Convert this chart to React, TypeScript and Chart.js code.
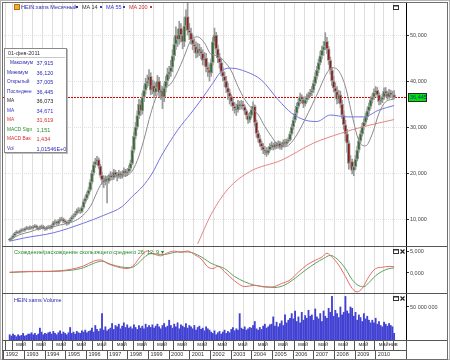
import React, { useEffect, useRef } from 'react';
import { Chart, registerables } from 'chart.js';

Chart.register(...registerables);

const FONT = "'Liberation Sans', Arial, sans-serif";
Chart.defaults.font.family = FONT;

// ---------- data (monthly, Jan 1992 .. Feb 2011) ----------
const years = ['1992', '1993', '1994', '1995', '1996', '1997', '1998', '1999', '2000', '2001', '2002', '2003', '2004', '2005', '2006', '2007', '2008', '2009', '2010'];
const dateLabel = '01-фев-2011';

const opens = [
  5.4, 5.6, 5.9, 6.4, 6.9, 7.2, 7.0, 7.4, 7.7, 7.5, 7.9, 8.1,
  7.9, 8.2, 8.0, 8.3, 8.5, 8.1, 7.9, 8.2, 8.4, 8.0, 7.8, 8.1,
  8.3, 8.0, 8.6, 9.2, 9.4, 9.0, 9.6, 9.9, 10.0, 9.5, 9.3, 9.0,
  9.4, 9.9, 10.4, 10.8, 11.2, 11.8, 12.0, 11.6, 12.5, 13.8, 14.5, 15.4,
  16.3, 18.0, 20.0, 21.8, 22.5, 22.9, 21.5, 19.5, 18.5, 18.0, 18.8, 18.2,
  19.0, 19.5, 19.0, 20.2, 19.6, 19.2, 20.0, 19.4, 19.8, 20.5, 19.9, 20.3,
  21.0, 22.1, 25.0, 28.0, 30.0, 32.5, 35.0, 33.5, 36.5, 38.0, 39.5, 40.0,
  41.0, 38.0, 39.0, 37.5, 38.5, 40.0, 37.5, 38.0, 36.5, 38.5, 40.0, 41.5,
  42.0, 43.0, 45.5, 48.0, 50.0, 49.0, 51.5, 50.0, 48.5, 52.0, 54.0, 51.0,
  50.5, 49.0, 48.0, 47.5, 46.0, 47.0, 46.5, 46.0, 44.5, 45.0, 43.0, 42.5,
  41.7, 44.0, 48.5, 50.0, 47.0, 45.0, 44.0, 42.0, 41.0, 40.0, 38.5, 37.5,
  36.6, 35.5, 34.5, 34.0, 33.7, 35.0, 34.5, 35.0, 34.4, 33.5, 32.5, 31.5,
  32.5, 33.8, 34.5, 31.0, 28.6, 27.5, 26.5, 25.7, 25.0, 24.8, 24.3, 25.0,
  25.8, 26.1, 25.5, 26.3, 25.8, 26.5, 25.6, 26.1, 26.8, 26.3, 26.9, 27.2,
  28.5, 30.0, 31.5, 33.0, 34.5, 35.5, 36.6, 36.0, 35.0, 35.9, 36.5, 37.0,
  37.5, 38.0, 39.5, 41.0, 42.4, 44.0, 45.5, 46.7, 47.5, 48.6, 47.0, 44.5,
  42.4, 40.0, 38.5, 37.7, 36.0, 37.0, 35.0, 32.6, 30.5, 28.5, 26.5, 22.1,
  22.5, 20.5, 21.4, 23.0, 25.0, 27.0, 28.5, 30.1, 31.0, 32.2, 33.5, 34.5,
  35.9, 36.5, 37.5, 38.0, 37.0, 35.5, 35.9, 36.5, 37.8, 37.3, 36.5, 37.5,
  37.0, 37.005,
];
const highs = [
  5.8, 6.1, 6.6, 7.1, 7.5, 7.4, 7.6, 7.9, 7.9, 8.1, 8.4, 8.3,
  8.5, 8.4, 8.6, 8.8, 8.7, 8.3, 8.5, 8.7, 8.6, 8.2, 8.4, 8.6,
  8.5, 8.8, 9.5, 9.8, 9.6, 9.9, 10.3, 10.4, 10.2, 9.8, 9.6, 9.7,
  10.2, 10.7, 11.1, 11.6, 12.2, 12.5, 12.3, 12.8, 14.2, 15.0, 15.9, 16.9,
  18.6, 20.6, 22.4, 23.2, 23.6, 23.3, 21.9, 20.2, 19.3, 19.4, 19.2, 19.6,
  20.3, 20.1, 20.8, 20.6, 20.1, 20.6, 20.3, 20.4, 21.1, 20.8, 20.9, 21.6,
  22.8, 25.8, 28.9, 31.0, 33.5, 36.0, 35.8, 37.4, 39.0, 40.6, 41.3, 42.5,
  41.8, 40.2, 40.0, 39.6, 41.2, 40.8, 39.0, 38.8, 39.4, 41.0, 42.8, 43.2,
  44.5, 46.8, 49.5, 51.8, 51.2, 53.0, 52.5, 51.0, 53.8, 55.5, 57.0, 52.5,
  51.5, 50.0, 49.2, 48.5, 48.2, 48.0, 47.3, 46.8, 46.2, 46.0, 44.0, 43.5,
  44.8, 49.5, 51.5, 50.6, 47.8, 46.0, 44.8, 43.0, 42.0, 41.0, 39.5, 38.2,
  37.0, 36.2, 35.3, 35.0, 35.8, 35.6, 35.8, 35.6, 34.8, 33.8, 33.0, 33.2,
  34.5, 35.5, 34.8, 31.5, 29.2, 28.2, 27.0, 26.4, 25.8, 25.5, 25.6, 26.4,
  26.8, 26.5, 26.8, 26.7, 27.0, 26.9, 26.6, 27.2, 27.3, 27.4, 27.8, 29.0,
  30.6, 32.2, 33.8, 35.2, 36.2, 37.4, 37.0, 36.5, 36.6, 37.2, 37.6, 38.2,
  38.8, 40.2, 41.8, 43.2, 44.8, 46.4, 47.6, 48.6, 50.5, 49.5, 47.5, 45.2,
  43.0, 41.0, 39.6, 38.8, 38.0, 37.8, 35.8, 33.5, 31.5, 29.5, 27.0, 23.8,
  23.0, 22.2, 23.8, 25.8, 27.8, 29.2, 30.8, 31.8, 33.0, 34.2, 35.2, 36.6,
  37.2, 38.3, 38.8, 38.6, 37.5, 36.6, 37.2, 38.5, 38.6, 37.8, 38.2, 38.0,
  37.8, 37.915,
];
const lows = [
  5.2, 5.4, 5.8, 6.2, 6.7, 6.8, 6.9, 7.2, 7.3, 7.3, 7.7, 7.6,
  7.7, 7.8, 7.8, 8.1, 7.9, 7.6, 7.7, 8.0, 7.8, 7.5, 7.6, 7.9,
  7.8, 7.9, 8.4, 8.9, 8.7, 8.8, 9.3, 9.6, 9.2, 9.0, 8.6, 8.8,
  9.2, 9.6, 10.1, 10.5, 11.0, 11.4, 11.2, 11.4, 12.3, 13.4, 14.2, 15.1,
  16.0, 17.6, 19.5, 21.2, 21.8, 21.0, 19.0, 17.5, 16.8, 17.4, 13.5, 17.8,
  18.4, 18.5, 18.6, 19.1, 18.3, 18.9, 18.8, 18.9, 19.4, 19.2, 19.4, 20.0,
  20.5, 21.8, 24.5, 27.4, 29.5, 31.8, 32.5, 32.8, 35.5, 37.2, 38.6, 39.0,
  37.0, 37.2, 36.4, 36.8, 37.8, 36.5, 36.0, 34.0, 35.5, 37.6, 39.2, 40.5,
  41.0, 42.0, 44.5, 46.8, 47.5, 48.0, 48.5, 47.0, 47.5, 51.0, 50.0, 49.0,
  48.0, 46.8, 46.2, 45.0, 45.2, 45.5, 44.8, 43.5, 43.4, 42.0, 41.0, 40.0,
  41.0, 43.5, 47.8, 46.0, 44.0, 42.8, 41.2, 40.0, 38.8, 37.5, 36.0, 35.0,
  34.6, 33.6, 33.0, 32.5, 33.2, 33.8, 33.9, 33.8, 32.8, 31.8, 30.8, 31.0,
  32.0, 33.2, 30.2, 27.8, 26.8, 25.8, 25.0, 24.2, 24.0, 23.6, 24.0, 24.8,
  25.2, 25.0, 25.2, 25.3, 25.4, 25.2, 25.1, 25.7, 25.9, 26.0, 26.6, 27.0,
  28.2, 29.5, 31.0, 32.5, 34.0, 35.0, 35.2, 34.2, 34.6, 35.4, 36.0, 36.6,
  36.8, 37.5, 39.0, 40.4, 41.8, 43.5, 44.8, 45.6, 46.8, 46.0, 43.6, 41.5,
  39.0, 37.6, 36.4, 35.0, 35.2, 34.2, 31.8, 29.5, 27.0, 24.5, 20.8, 21.0,
  19.8, 19.4, 20.8, 22.6, 24.5, 26.5, 28.0, 29.5, 30.5, 31.6, 32.8, 34.0,
  35.2, 36.0, 37.0, 36.4, 34.8, 34.9, 35.3, 36.0, 36.8, 36.0, 36.2, 36.4,
  36.2, 36.12,
];
const closes = [
  5.6, 5.9, 6.4, 6.9, 7.2, 7.0, 7.4, 7.7, 7.5, 7.9, 8.1, 7.9,
  8.2, 8.0, 8.3, 8.5, 8.1, 7.9, 8.2, 8.4, 8.0, 7.8, 8.1, 8.3,
  8.0, 8.6, 9.2, 9.4, 9.0, 9.6, 9.9, 10.0, 9.5, 9.3, 9.0, 9.4,
  9.9, 10.4, 10.8, 11.2, 11.8, 12.0, 11.6, 12.5, 13.8, 14.5, 15.4, 16.3,
  18.0, 20.0, 21.8, 22.5, 22.9, 21.5, 19.5, 18.5, 18.0, 18.8, 18.2, 19.0,
  19.5, 19.0, 20.2, 19.6, 19.2, 20.0, 19.4, 19.8, 20.5, 19.9, 20.3, 21.0,
  22.1, 25.0, 28.0, 30.0, 32.5, 35.0, 33.5, 36.5, 38.0, 39.5, 40.0, 41.0,
  38.0, 39.0, 37.5, 38.5, 40.0, 37.5, 38.0, 36.5, 38.5, 40.0, 41.5, 42.0,
  43.0, 45.5, 48.0, 50.0, 49.0, 51.5, 50.0, 48.5, 52.0, 54.0, 51.0, 50.5,
  49.0, 48.0, 47.5, 46.0, 47.0, 46.5, 46.0, 44.5, 45.0, 43.0, 42.5, 41.7,
  44.0, 48.5, 50.0, 47.0, 45.0, 44.0, 42.0, 41.0, 40.0, 38.5, 37.5, 36.6,
  35.5, 34.5, 34.0, 33.7, 35.0, 34.5, 35.0, 34.4, 33.5, 32.5, 31.5, 32.5,
  33.8, 34.5, 31.0, 28.6, 27.5, 26.5, 25.7, 25.0, 24.8, 24.3, 25.0, 25.8,
  26.1, 25.5, 26.3, 25.8, 26.5, 25.6, 26.1, 26.8, 26.3, 26.9, 27.2, 28.5,
  30.0, 31.5, 33.0, 34.5, 35.5, 36.6, 36.0, 35.0, 35.9, 36.5, 37.0, 37.5,
  38.0, 39.5, 41.0, 42.4, 44.0, 45.5, 46.7, 47.5, 48.6, 47.0, 44.5, 42.4,
  40.0, 38.5, 37.7, 36.0, 37.0, 35.0, 32.6, 30.5, 28.5, 26.5, 22.1, 22.5,
  20.5, 21.4, 23.0, 25.0, 27.0, 28.5, 30.1, 31.0, 32.2, 33.5, 34.5, 35.9,
  36.5, 37.5, 38.0, 37.0, 35.5, 35.9, 36.5, 37.8, 37.3, 36.5, 37.5, 37.0,
  37.0, 36.445,
];
// volume in millions
const volumes = [
  8, 6, 9, 7, 5, 8, 6, 7, 10, 6, 7, 9,
  9, 11, 8, 10, 7, 9, 18, 12, 8, 10, 9, 11,
  12, 9, 13, 10, 8, 11, 14, 9, 12, 10, 8, 11,
  19, 10, 12, 9, 13, 11, 10, 14, 12, 15, 11, 13,
  14, 18, 12, 22, 16, 13, 17, 40, 15, 20, 14, 16,
  18, 25, 16, 22, 20, 24, 17, 21, 26, 19, 23, 18,
  20, 17, 23, 19, 16, 22, 18, 21, 17, 24, 19, 22,
  19, 23, 18, 21, 24, 20, 17, 22, 25, 19, 21, 30,
  22, 18, 24, 20, 26, 17, 23, 21, 19, 25, 18, 22,
  20, 17, 22, 15, 19, 21, 16, 18, 14, 20, 17, 15,
  12, 10, 14, 8, 11, 13, 9, 12, 15, 10, 13, 11,
  16, 19, 14, 17, 15, 40, 18, 16, 20, 15, 17, 19,
  18, 22, 28, 17, 15, 19, 16, 21, 24, 18, 20, 23,
  24, 35, 21, 27, 20, 25, 29, 22, 38, 26, 30, 33,
  40, 32, 44, 28, 35, 26, 42, 30, 37, 33, 45, 36,
  38, 30, 47, 35, 32, 40, 28, 44, 36, 33, 48, 42,
  66, 36, 45, 40, 34, 50, 38, 42, 66, 44, 40, 50,
  48, 36, 42, 30, 38, 34, 28, 40, 32, 36, 30, 26,
  30, 26, 33, 24, 28, 22, 20, 27, 24, 21, 25, 22,
  20, 10.1546,
];

// moving averages (month index -> value)
const ma14Months = [0, 6, 12, 18, 24, 30, 36, 42, 48, 54, 60, 66, 72, 76, 80, 84, 88, 92, 96, 100, 104, 108, 112, 116, 120, 124, 128, 132, 136, 140, 144, 148, 152, 156, 160, 164, 168, 172, 176, 180, 184, 188, 192, 196, 200, 204, 208, 212, 216, 220, 224, 229];
const ma14Values = [5.5, 6.6, 7.2, 7.9, 8.1, 8.7, 9.2, 10.3, 12.7, 17.3, 19.6, 19.3, 20.0, 22.7, 27.3, 32.9, 37.1, 38.5, 39.4, 42.0, 45.4, 48.9, 49.6, 48.3, 45.8, 45.5, 44.2, 42.2, 38.8, 36.0, 34.1, 32.7, 30.1, 27.9, 26.0, 25.7, 26.7, 28.9, 31.7, 34.7, 37.8, 41.1, 42.9, 42.2, 38.8, 32.5, 27.0, 25.9, 28.5, 33.0, 35.5, 36.073];
const ma55Months = [0, 9, 26, 44, 56, 67, 73, 79, 85, 90, 100, 108, 114, 120, 127, 132, 141, 150, 160, 168, 176, 183, 191, 201, 211, 220, 229];
const ma55Values = [5.2, 5.9, 7.0, 9.1, 10.8, 12.7, 14.9, 17.0, 20.0, 23.5, 29.3, 33.0, 35.9, 39.0, 42.4, 42.8, 42.0, 40.2, 35.9, 33.0, 31.5, 31.2, 32.6, 32.2, 32.2, 33.7, 34.671];
const ma200Months = [112, 120, 130, 143, 162, 181, 197, 211, 229];
const ma200Values = [4.6, 11.0, 16.5, 20.3, 22.8, 26.5, 28.6, 30.1, 31.619];

// MACD (26; 12; 9)
const macdMonths = [0, 12, 24, 36, 44, 50, 54, 58, 63, 70, 74, 78, 82, 86, 90, 94, 98, 102, 106, 110, 114, 118, 121, 124, 128, 134, 140, 146, 152, 156, 162, 167, 172, 177, 182, 186, 189, 192, 196, 200, 204, 207, 210, 214, 218, 222, 226, 229];
const macdValues = [0.2, 0.35, 0.4, 0.8, 1.6, 2.7, 3.0, 2.2, 1.5, 1.0, 1.8, 3.8, 5.0, 4.3, 3.9, 4.6, 5.0, 4.7, 5.0, 4.2, 3.2, 1.4, 1.0, 1.5, 0.3, -1.8, -3.1, -2.8, -3.2, -3.2, -2.4, -1.6, 0.2, 1.8, 2.9, 3.6, 4.5, 3.6, 1.8, -0.8, -3.5, -4.3, -3.5, -0.8, 1.0, 1.3, 1.5, 1.434];
const signalMonths = [0, 12, 24, 36, 44, 50, 55, 60, 66, 72, 76, 80, 84, 88, 92, 96, 100, 104, 108, 112, 116, 120, 124, 128, 134, 140, 146, 152, 158, 164, 170, 176, 182, 187, 191, 195, 200, 204, 208, 211, 214, 218, 222, 226, 229];
const signalValues = [0.1, 0.3, 0.35, 0.6, 1.2, 2.2, 2.7, 2.0, 1.4, 1.2, 2.0, 3.5, 4.4, 4.3, 4.2, 4.5, 4.8, 4.8, 4.7, 4.1, 3.2, 2.2, 1.6, 1.0, -0.8, -2.0, -2.8, -3.1, -3.3, -2.7, -1.2, 0.6, 2.2, 3.3, 4.0, 3.2, 1.0, -1.5, -2.9, -3.1, -2.2, -0.6, 0.4, 1.0, 1.151];

const priceTicks = [10, 20, 30, 40, 50];
const macdTicks = [0, 5];
const volTicks = [50];

const X_MIN = -1.5;
const X_MAX = 233;

// axis tick positions (month boundaries)
const janTicks = years.map((_, k) => 12 * k - 0.5);
const mayTicks = years.map((_, k) => 12 * k + 3.5);
const novTick = 12 * 18 + 9.5;
const row1Ticks = [...janTicks, ...mayTicks, novTick].sort((a, b) => a - b);

const LAST = closes.length - 1;
const lastPrice = closes[LAST];

const fmt3 = (v: number) => v.toFixed(3).replace('.', ',');
const fmtBig = (v: number) => String(Math.round(v * 1e6)).replace(/\B(?=(\d{3})+(?!\d))/g, ' ');
const fmtExp = (v: number) => {
  const [m, e] = (v * 1e6).toExponential(5).split('e');
  const n = Math.abs(parseInt(e, 10));
  return `${m.replace('.', ',')}E${parseInt(e, 10) < 0 ? '-' : '+'}${String(n).padStart(2, '0')}`;
};

const UP = '#2f6e2f';
const DOWN = '#8e1b1b';
const WICK = '#9a9a9a';

const pts = (ms: number[], vs: number[]) => ms.map((m, i) => ({ x: m, y: vs[i] }));
const idx = closes.map((_, i) => i);

const tickFont = { size: 5.5, family: FONT };

const yAxis = (ticks: number[], fmt: (v: number) => string, weight: number, stackWeight: number, min: number, max: number, grid = true) => ({
  type: 'linear',
  position: 'right',
  stack: 'panels',
  stackWeight,
  weight,
  min,
  max,
  afterBuildTicks: (s: any) => { s.ticks = ticks.map((v) => ({ value: v })); },
  afterFit: (s: any) => { s.width = 41; s.paddingTop = 0; s.paddingBottom = 0; },
  ticks: { callback: (v: any) => fmt(Number(v)), font: tickFont, color: '#444', padding: 1 },
  grid: { display: true, drawOnChartArea: grid, color: '#e2e2e2', drawTicks: true, tickLength: 3, tickColor: '#333' },
  border: { display: true, color: '#000', dash: [1, 1], width: 1 },
});

// crisp dotted line for the last price, positioned by the price scale
const lastLine = {
  id: 'lastLine',
  beforeDatasetsDraw(chart: any) {
    const ctx = chart.ctx;
    const { left, right } = chart.chartArea;
    const y = Math.round(chart.scales.yPrice.getPixelForValue(lastPrice)) + 0.5;
    ctx.save();
    ctx.strokeStyle = '#e00000';
    ctx.lineWidth = 1;
    ctx.setLineDash([2, 1]);
    ctx.beginPath();
    ctx.moveTo(Math.round(left), y);
    ctx.lineTo(Math.round(right), y);
    ctx.stroke();
    ctx.restore();
  },
};

const decor = {
  id: 'decor',
  afterDraw(chart: any) {
    const ctx = chart.ctx;
    const { right } = chart.chartArea;
    const yP = chart.scales.yPrice;
    const yM = chart.scales.yMacd;
    const yV = chart.scales.yVol;
    const x2 = chart.scales.x2;
    const line = (x1: number, y1: number, x2_: number, y2: number, c: string) => {
      ctx.strokeStyle = c; ctx.lineWidth = 1;
      ctx.beginPath(); ctx.moveTo(x1, y1); ctx.lineTo(x2_, y2); ctx.stroke();
    };
    ctx.save();
    ctx.setLineDash([]);
    // frames
    ctx.strokeStyle = '#b5b5b5'; ctx.lineWidth = 1;
    ctx.strokeRect(0.5, 0.5, 449, 359);
    ctx.strokeStyle = '#6e6e6e';
    ctx.strokeRect(2.5, 2.5, 445, 357);
    // panel separators
    [yM.top, yV.top, yV.bottom].forEach((y: number) => line(2, Math.round(y) + 0.5, 447, Math.round(y) + 0.5, '#555'));
    line(2, Math.round(x2.top) + 0.5, right, Math.round(x2.top) + 0.5, '#555');
    line(Math.round(right) + 0.5, yV.bottom, Math.round(right) + 0.5, 359, '#555');

    // last price label
    const py = yP.getPixelForValue(lastPrice);
    const bx = Math.round(right) + 2;
    ctx.fillStyle = '#00e400';
    ctx.fillRect(bx, Math.round(py) - 4, 18, 9);
    ctx.strokeStyle = '#2a2a2a';
    ctx.strokeRect(bx + 0.5, Math.round(py) - 3.5, 18, 8);
    ctx.fillStyle = '#1c1cc0';
    ctx.font = `5.5px ${FONT}`;
    ctx.textBaseline = 'middle';
    ctx.textAlign = 'left';
    ctx.fillText(fmt3(lastPrice), bx + 2, Math.round(py) + 0.5);

    // panel icons (window / close)
    const winIcon = (x: number, y: number) => {
      ctx.strokeStyle = '#333'; ctx.lineWidth = 1;
      ctx.strokeRect(x + 0.5, y + 0.5, 5, 4);
      ctx.fillStyle = '#333'; ctx.fillRect(x, y, 6, 1.5);
    };
    const closeIcon = (x: number, y: number) => {
      ctx.strokeStyle = '#222'; ctx.lineWidth = 1.2;
      ctx.beginPath(); ctx.moveTo(x, y); ctx.lineTo(x + 4, y + 4); ctx.moveTo(x + 4, y); ctx.lineTo(x, y + 4); ctx.stroke();
    };
    winIcon(right - 13, yP.top + 2);
    winIcon(right - 13, yM.top + 3);
    closeIcon(right - 5.5, yM.top + 3.5);
    winIcon(right - 13, yV.top + 3);
    closeIcon(right - 5.5, yV.top + 3.5);
    ctx.restore();
  },
};

function buildConfig(): any {
  return {
    data: {
      datasets: [
        { type: 'line', label: 'MA 14', data: pts(ma14Months, ma14Values), xAxisID: 'x', yAxisID: 'yPrice', borderColor: '#8a8a8a', borderWidth: 1, pointRadius: 0, cubicInterpolationMode: 'monotone', order: 1 },
        { type: 'line', label: 'MA 55', data: pts(ma55Months, ma55Values), xAxisID: 'x', yAxisID: 'yPrice', borderColor: '#7474de', borderWidth: 1, pointRadius: 0, cubicInterpolationMode: 'monotone', order: 1 },
        { type: 'line', label: 'MA 200', data: pts(ma200Months, ma200Values), xAxisID: 'x', yAxisID: 'yPrice', borderColor: '#e98282', borderWidth: 1, pointRadius: 0, cubicInterpolationMode: 'monotone', order: 1 },
        { type: 'bar', label: 'body', data: idx.map((i) => ({ x: i, y: [opens[i], closes[i]] })), xAxisID: 'x', yAxisID: 'yPrice', backgroundColor: idx.map((i) => (closes[i] >= opens[i] ? UP : DOWN)), borderColor: WICK, borderWidth: 1, borderSkipped: false, barThickness: 3, grouped: false, order: 3 },
        { type: 'bar', label: 'wick', data: idx.map((i) => ({ x: i, y: [lows[i], highs[i]] })), xAxisID: 'x', yAxisID: 'yPrice', backgroundColor: WICK, barThickness: 1, grouped: false, order: 4 },
        { type: 'line', label: 'MACD Bas', data: pts(macdMonths, macdValues), xAxisID: 'x', yAxisID: 'yMacd', borderColor: '#e86a6a', borderWidth: 1, pointRadius: 0, cubicInterpolationMode: 'monotone', order: 1 },
        { type: 'line', label: 'MACD Sign', data: pts(signalMonths, signalValues), xAxisID: 'x', yAxisID: 'yMacd', borderColor: '#5f9f5f', borderWidth: 1, pointRadius: 0, cubicInterpolationMode: 'monotone', order: 1 },
        { type: 'bar', label: 'Volume', data: idx.map((i) => ({ x: i, y: volumes[i] })), xAxisID: 'x', yAxisID: 'yVol', backgroundColor: '#4141d3', barThickness: 1.2, grouped: false, order: 5 },
      ],
    },
    options: {
      responsive: false,
      animation: false,
      events: [],
      layout: { padding: { left: 2, right: 3, top: 3, bottom: 0 } },
      plugins: { legend: { display: false }, tooltip: { enabled: false } },
      scales: {
        x: {
          type: 'linear', position: 'bottom', min: X_MIN, max: X_MAX, weight: 1,
          afterBuildTicks: (s: any) => { s.ticks = row1Ticks.map((v) => ({ value: v })); },
          afterFit: (s: any) => { s.height = 10; s.paddingLeft = 0; s.paddingRight = 0; },
          ticks: {
            autoSkip: false, maxRotation: 0, minRotation: 0, align: 'start', labelOffset: 0.5, padding: -9,
            font: tickFont, color: '#333',
            callback: (v: any) => (mayTicks.includes(Number(v)) ? 'май' : Number(v) === novTick ? 'нов' : ''),
          },
          grid: { color: '#dddddd', drawOnChartArea: true, drawTicks: true, tickLength: 10, tickColor: '#555' },
          border: { display: false },
        },
        x2: {
          type: 'linear', position: 'bottom', min: X_MIN, max: X_MAX, weight: 2,
          afterBuildTicks: (s: any) => { s.ticks = janTicks.map((v) => ({ value: v })); },
          afterFit: (s: any) => { s.height = 10; s.paddingLeft = 0; s.paddingRight = 0; },
          ticks: {
            autoSkip: false, maxRotation: 0, minRotation: 0, align: 'start', labelOffset: 2, padding: -9,
            font: tickFont, color: '#333',
            callback: (v: any) => { const k = janTicks.indexOf(Number(v)); return k >= 0 ? years[k] : ''; },
          },
          grid: { drawOnChartArea: false, drawTicks: true, tickLength: 10, tickColor: '#555' },
          border: { display: false },
        },
        yPrice: yAxis(priceTicks, fmt3, 1, 243, 4.13, 56.96),
        yMacd: yAxis(macdTicks, fmt3, 2, 47, -4.55, 6.14, false),
        yVol: yAxis(volTicks, fmtBig, 3, 47, 0, 71.2, false),
      },
    },
    plugins: [lastLine, decor],
  };
}

const infoRows = [
  { label: 'Максимум', value: fmt3(highs[LAST]), color: '#2a2ab4' },
  { label: 'Минимум', value: fmt3(lows[LAST]), color: '#2a2ab4' },
  { label: 'Открытый', value: fmt3(opens[LAST]), color: '#2a2ab4' },
  { label: 'Последнее', value: fmt3(closes[LAST]), color: '#2a2ab4' },
  { label: 'MA', value: fmt3(ma14Values[ma14Values.length - 1]), color: '#222222' },
  { label: 'MA', value: fmt3(ma55Values[ma55Values.length - 1]), color: '#3636cc' },
  { label: 'MA', value: fmt3(ma200Values[ma200Values.length - 1]), color: '#d33030' },
  { label: 'MACD Sign', value: fmt3(signalValues[signalValues.length - 1]), color: '#2b8a2b' },
  { label: 'MACD Bas', value: fmt3(macdValues[macdValues.length - 1]), color: '#d33030' },
  { label: 'Vol', value: fmtExp(volumes[LAST]), color: '#2a2ab4' },
];

const txt: React.CSSProperties = { position: 'absolute', fontSize: '5.5px', lineHeight: '8px', whiteSpace: 'nowrap', fontFamily: FONT };
const sq = (left: number, color: string): React.CSSProperties => ({ position: 'absolute', left, top: 6, width: 2, height: 2, background: color });

export default function App() {
  const ref = useRef<HTMLCanvasElement>(null);
  useEffect(() => {
    const chart = new Chart(ref.current as HTMLCanvasElement, buildConfig());
    return () => chart.destroy();
  }, []);
  return (
    <div style={{ position: 'fixed', left: 0, top: 0, width: 450, height: 360, background: '#fff', overflow: 'hidden', fontFamily: FONT }}>
      <canvas ref={ref} width={450} height={360} style={{ position: 'absolute', left: 0, top: 0, width: 450, height: 360 }} />
      {/* top legend */}
      <div style={{ position: 'absolute', left: 14, top: 4, width: 6, height: 6, background: '#f2a83a', border: '1px solid #b57214', boxSizing: 'border-box' }} />
      <div style={{ ...txt, left: 21, top: 3, color: '#2a2aa6' }}>HEIN:xams Месячный</div>
      <div style={sq(76, '#2a2aa6')} />
      <div style={{ ...txt, left: 82, top: 3, color: '#333' }}>MA 14</div>
      <div style={sq(100, '#3636cc')} />
      <div style={{ ...txt, left: 106, top: 3, color: '#3636cc' }}>MA 55</div>
      <div style={sq(123, '#3636cc')} />
      <div style={{ ...txt, left: 129, top: 3, color: '#d33030' }}>MA 200</div>
      <div style={sq(150, '#d33030')} />
      {/* info box */}
      <div style={{ position: 'absolute', left: 4, top: 48, width: 63, height: 105, background: '#fff', border: '1px solid #8a8a8a', boxSizing: 'border-box', boxShadow: '1px 1px 0 #bdbdbd', overflow: 'hidden' }}>
        <div style={{ ...txt, left: 3, top: 0, color: '#333' }}>{dateLabel}</div>
        <div style={{ position: 'absolute', left: 1, right: 1, top: 8, height: 1, background: '#c8c8c8' }} />
        {infoRows.map((r, i) => (
          <React.Fragment key={i}>
            <div style={{ ...txt, fontSize: '4.8px', left: i === 0 ? 5 : 2, top: 10 + i * 9.5, color: r.color }}>{r.label}</div>
            <div style={{ ...txt, left: 31.5, top: 10 + i * 9.5, color: r.color }}>{r.value}</div>
          </React.Fragment>
        ))}
      </div>
      {/* panel titles */}
      <div style={{ ...txt, left: 14, top: 248, color: '#2b8a2b' }}>Схождение/расхождение скользящего среднего 26; 12; 9 ▾</div>
      <div style={{ ...txt, left: 14, top: 295.5, color: '#2a2ab4' }}>HEIN:xams Volume</div>
    </div>
  );
}
